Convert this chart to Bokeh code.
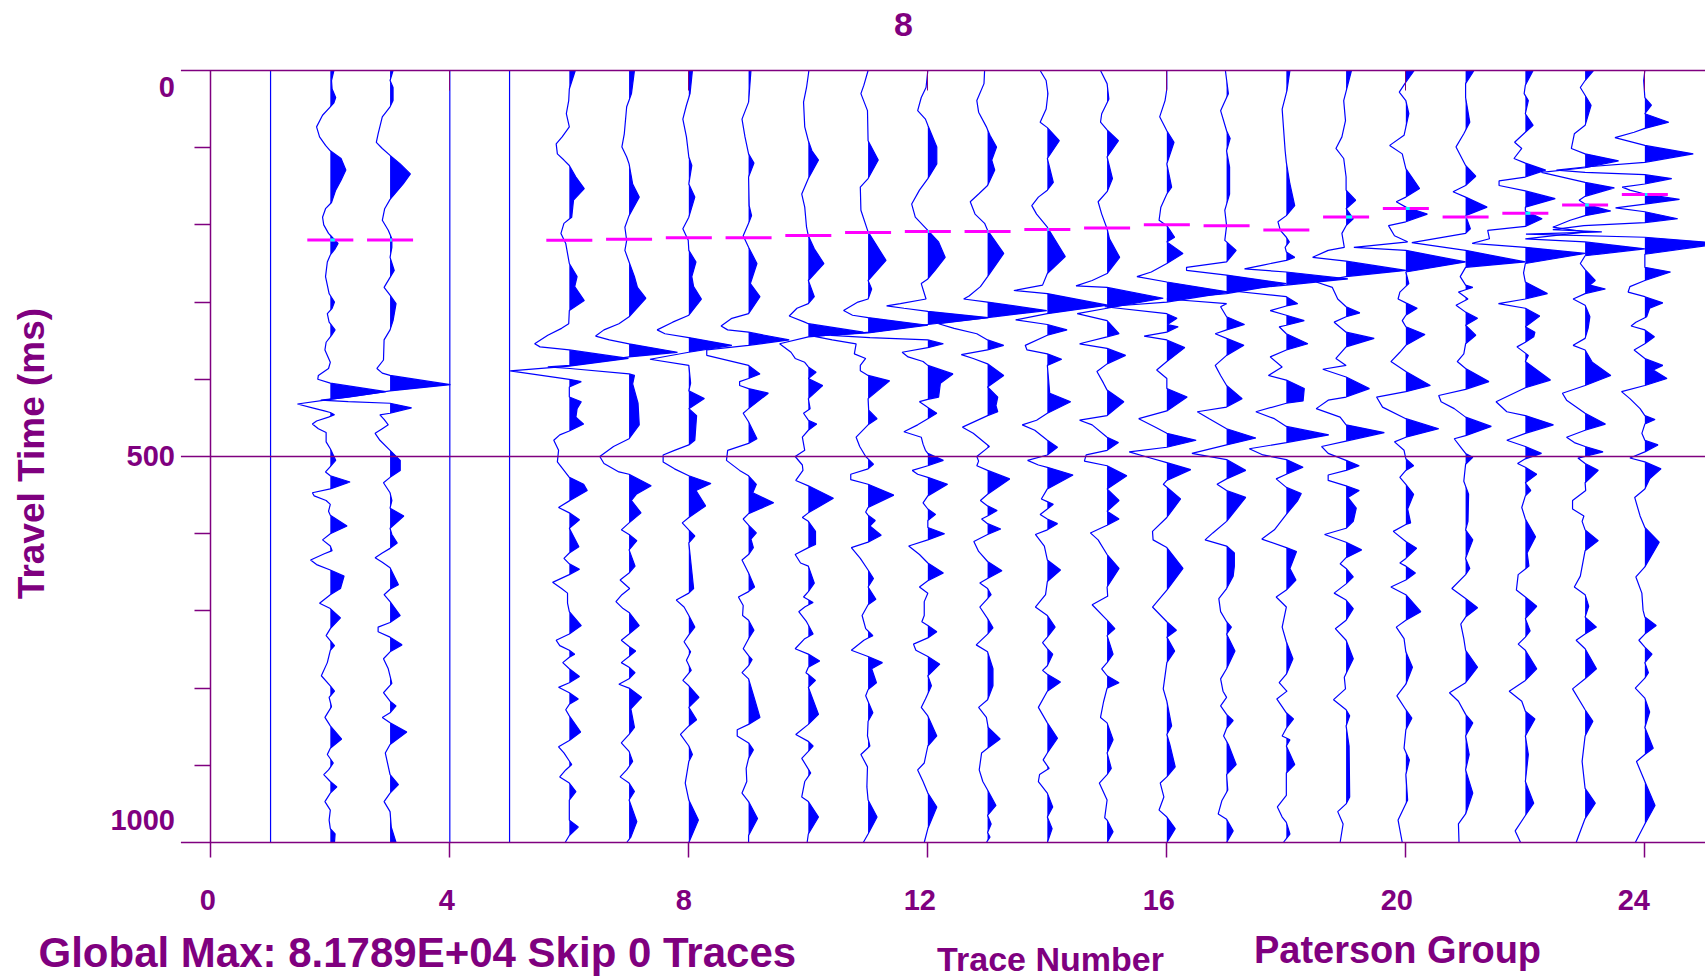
import numpy as np
from bokeh.plotting import figure
from bokeh.models import Range1d, LinearAxis, FixedTicker, Label
from bokeh.embed import file_html
from bokeh.resources import INLINE

# (time ms, amplitude in hundredths of a trace spacing)
trace_1 = [(0,0),(1000,0)]
trace_2 = [(0,6),(13,2),(24,3),(35,9),(42,6),(47,0),(58,-13),(73,-23),(86,-18),(97,-8),(104,0),(114,18),(129,26),(142,18),(155,9),(171,2),(179,-8),(190,-13),(200,-11),(211,-3),(224,13),(231,8),(239,0),(248,-5),(267,-8),(289,-2),(300,7),(308,3),(315,-5),(326,-2),(336,8),(343,2),(352,-7),(362,-9),(378,0),(386,-3),(395,-20),(400,-21),(405,0),(416,93),(426,0),(432,-55),(437,-30),(441,-10),(443,0),(446,7),(449,-3),(454,-23),(458,-30),(464,-20),(469,-7),(481,-7),(490,0),(505,9),(513,0),(520,-8),(525,0),(533,33),(542,0),(547,-30),(551,-27),(557,-7),(562,0),(571,-3),(576,0),(590,28),(600,0),(608,-13),(616,0),(622,3),(626,-10),(634,-33),(640,-23),(647,0),(655,23),(671,17),(679,0),(690,-18),(697,0),(709,17),(723,0),(732,-7),(745,7),(751,0),(767,-5),(784,-15),(797,0),(804,7),(812,-2),(824,2),(838,-9),(849,0),(866,19),(878,0),(886,-5),(897,5),(906,-3),(912,-11),(921,0),(928,11),(936,0),(947,-9),(958,0),(971,-2),(982,0),(989,8),(1000,7)]
trace_3 = [(0,5),(13,0),(22,5),(39,5),(47,0),(60,-13),(82,-20),(93,-23),(101,-13),(110,0),(121,17),(134,34),(147,22),(167,0),(179,-9),(194,-13),(207,-3),(218,3),(229,3),(242,0),(259,7),(268,0),(281,-10),(291,0),(302,10),(324,5),(336,0),(349,-10),(375,-11),(386,-22),(392,-13),(395,0),(407,101),(415,0),(423,-70),(427,-116),(429,-70),(431,0),(437,36),(444,0),(446,-17),(452,-10),(459,-3),(464,-13),(470,-25),(479,-17),(492,0),(505,17),(518,17),(527,0),(534,-11),(547,0),(557,3),(567,0),(577,23),(593,0),(601,3),(612,12),(619,0),(625,-13),(631,-25),(637,-13),(644,0),(666,14),(672,0),(679,-10),(688,0),(706,17),(715,0),(721,-20),(727,-20),(734,0),(744,20),(753,0),(762,-11),(775,-3),(794,3),(806,-11),(817,0),(823,10),(832,0),(838,-13),(845,0),(857,28),(873,0),(884,-8),(912,0),(925,14),(936,0),(947,-10),(960,0),(980,2),(1000,10)]
trace_4 = [(0,0),(1000,0)]
trace_5 = [(0,0),(1000,0)]
trace_6 = [(0,10),(24,0),(39,-1),(56,-5),(73,0),(86,-12),(95,-22),(108,-20),(116,-9),(123,0),(138,11),(153,25),(168,7),(190,4),(198,-9),(211,-14),(224,-6),(250,0),(267,13),(280,9),(298,25),(311,0),(328,-1),(334,-13),(343,-36),(354,-58),(358,-49),(362,0),(373,99),(383,0),(389,-99),(400,0),(403,20),(410,0),(423,0),(429,20),(438,13),(449,11),(458,24),(467,0),(472,-16),(479,-26),(492,-18),(507,-20),(518,-9),(527,0),(536,24),(544,30),(557,1),(566,-18),(573,0),(582,17),(593,0),(617,16),(625,0),(632,-9),(639,0),(646,17),(653,0),(663,-28),(671,-13),(677,-3),(690,-3),(701,0),(719,20),(730,0),(738,-22),(745,-16),(751,0),(756,9),(760,0),(767,-11),(775,0),(785,17),(793,0),(799,-18),(806,0),(814,15),(821,0),(828,-6),(836,0),(857,19),(868,0),(876,-18),(884,-9),(899,4),(906,-6),(915,-16),(923,0),(934,11),(945,0),(971,0),(980,15),(991,0),(1000,-7)]
trace_7 = [(0,9),(30,4),(47,-4),(82,-8),(99,-12),(112,-4),(121,0),(147,6),(164,17),(188,0),(203,-7),(220,-4),(233,-7),(248,0),(267,9),(281,14),(295,28),(319,0),(328,-17),(336,-42),(344,-56),(349,-33),(354,0),(365,81),(371,0),(382,-99),(384,-136),(386,-99),(393,0),(395,9),(406,6),(431,15),(459,17),(477,0),(487,-26),(500,-49),(509,-42),(520,-17),(523,0),(538,37),(549,12),(557,4),(573,20),(586,0),(595,-13),(601,0),(609,13),(621,0),(642,10),(651,0),(660,-15),(671,1),(679,-12),(688,-22),(697,-10),(702,0),(719,17),(730,0),(738,-13),(746,0),(752,11),(759,0),(767,-13),(773,0),(780,10),(788,0),(795,-17),(800,0),(812,21),(827,3),(851,9),(860,0),(871,-13),(882,0),(895,6),(906,-4),(915,-15),(923,0),(934,9),(945,0),(973,13),(993,3),(1000,-4)]
trace_8 = [(0,6),(30,2),(45,-4),(63,-10),(86,-4),(112,0),(123,5),(147,0),(164,10),(190,0),(205,-10),(220,-1),(233,0),(248,12),(267,5),(280,8),(296,21),(317,0),(326,-27),(336,-53),(341,-40),(346,0),(356,72),(365,0),(374,-65),(382,0),(405,3),(415,0),(425,26),(438,0),(447,13),(479,10),(485,0),(492,-24),(498,-43),(507,-43),(516,-24),(525,0),(535,37),(544,12),(564,28),(579,0),(586,-11),(595,0),(603,10),(612,0),(671,8),(677,0),(686,-21),(695,-8),(706,0),(721,10),(731,0),(740,-8),(753,3),(764,-4),(777,4),(790,-10),(797,0),(812,17),(825,0),(841,13),(849,0),(860,-14),(875,0),(886,6),(895,0),(923,-6),(945,0),(971,16),(1000,0)]
trace_9 = [(0,4),(41,0),(63,-11),(86,-6),(108,0),(120,9),(138,0),(175,1),(188,5),(198,0),(214,-9),(229,0),(250,14),(276,3),(293,19),(315,0),(321,-28),(331,-46),(336,-35),(339,0),(349,68),(356,0),(362,-70),(369,-70),(382,0),(393,19),(399,0),(403,-15),(408,-15),(412,0),(418,33),(438,0),(444,-9),(455,0),(477,14),(483,0),(492,-35),(505,-37),(518,-15),(525,0),(536,13),(547,7),(560,42),(574,0),(581,-9),(589,0),(599,13),(607,4),(618,8),(627,0),(634,-11),(651,0),(669,10),(675,0),(682,-17),(693,-9),(706,-10),(712,0),(725,9),(736,0),(749,-9),(758,0),(763,6),(771,0),(780,-11),(788,0),(814,10),(838,19),(847,0),(854,-19),(862,-19),(871,0),(880,8),(891,0),(904,-4),(921,-3),(936,-11),(947,0),(969,15),(991,0),(1000,0)]
trace_10 = [(0,1),(22,-3),(41,-8),(73,-6),(91,0),(104,6),(116,17),(140,0),(160,-11),(177,-6),(203,-3),(214,0),(231,10),(250,26),(272,0),(293,10),(302,0),(308,-19),(318,-32),(326,-6),(328,0),(339,92),(345,0),(354,-48),(365,-29),(373,-22),(378,-6),(384,0),(391,13),(399,0),(408,24),(425,0),(438,3),(444,-8),(453,0),(458,14),(466,0),(475,-10),(492,-6),(500,-22),(511,-10),(518,-9),(531,-21),(538,0),(554,42),(573,0),(579,-10),(584,0),(597,12),(614,12),(618,0),(627,-22),(638,-13),(642,0),(664,10),(675,0),(682,-8),(689,8),(695,-6),(701,-16),(714,-3),(730,8),(736,-6),(749,-22),(756,0),(765,19),(773,0),(780,-4),(790,12),(799,0),(834,17),(847,0),(860,-21),(869,0),(875,8),(882,0),(891,-11),(910,4),(921,-6),(941,-11),(947,0),(967,17),(989,0),(1000,-2)]
trace_11 = [(0,0),(19,-7),(30,-12),(52,-1),(91,0),(116,17),(140,0),(151,-13),(181,-12),(209,0),(246,30),(272,0),(283,6),(296,0),(300,-17),(311,-41),(317,-26),(320,0),(330,100),(340,0),(344,-92),(349,-60),(354,-20),(367,-23),(373,-4),(382,-13),(389,-13),(395,0),(402,36),(425,0),(440,1),(451,15),(459,0),(475,-20),(487,-14),(500,-4),(510,9),(516,0),(523,-29),(530,-29),(536,0),(550,43),(566,0),(572,-4),(576,0),(583,12),(590,3),(602,22),(611,0),(618,-28),(632,-13),(647,0),(658,9),(669,0),(685,13),(692,0),(706,-10),(723,-4),(732,8),(738,-7),(751,-28),(759,0),(767,24),(775,6),(793,14),(802,0),(810,-4),(832,8),(843,0),(862,-1),(875,3),(886,-12),(902,-1),(928,-2),(945,0),(967,15),(989,0),(1000,-8)]
trace_12 = [(0,0),(22,-3),(35,-11),(52,-17),(63,-4),(71,0),(99,15),(121,15),(140,0),(155,-14),(173,-27),(190,-21),(207,0),(222,18),(242,29),(259,12),(270,0),(276,-11),(296,-3),(302,-46),(305,-69),(308,-40),(312,0),(320,101),(329,0),(339,-97),(343,-162),(346,-97),(349,0),(354,26),(359,0),(365,-43),(371,-33),(377,-8),(382,0),(393,42),(405,21),(423,18),(426,0),(429,-14),(436,-1),(444,15),(451,0),(459,-17),(468,-40),(475,-11),(484,-8),(492,-4),(496,0),(505,26),(512,0),(518,-26),(523,-17),(527,0),(536,33),(551,0),(560,-8),(568,0),(575,13),(583,0),(592,0),(600,28),(608,0),(616,-32),(627,-14),(638,0),(651,26),(661,0),(669,-14),(677,0),(688,-6),(706,-6),(714,-10),(719,0),(727,15),(735,0),(743,-24),(751,-20),(759,0),(769,20),(784,0),(797,6),(814,-4),(825,-11),(836,0),(862,15),(875,0),(897,-6),(906,-17),(921,-8),(936,0),(954,15),(982,0),(1000,-6)]
trace_13 = [(0,-5),(17,-6),(39,-18),(54,-15),(73,-2),(84,4),(99,15),(116,7),(129,12),(149,0),(160,-15),(170,-29),(186,-21),(198,-5),(207,0),(237,27),(267,0),(280,-12),(292,-31),(296,-40),(300,0),(311,99),(320,0),(328,-82),(334,-56),(341,-18),(349,0),(356,27),(362,0),(368,-44),(373,-24),(380,0),(395,27),(410,0),(423,17),(434,14),(442,17),(447,0),(462,-42),(470,-24),(487,3),(500,-18),(506,-15),(512,-18),(518,0),(529,37),(549,0),(557,-12),(564,0),(570,16),(577,0),(581,-10),(587,0),(594,22),(601,0),(610,-23),(623,-15),(636,0),(648,24),(658,0),(664,-13),(671,0),(679,6),(684,0),(695,-13),(710,0),(722,9),(730,0),(744,-19),(753,0),(775,9),(797,9),(815,0),(825,-15),(838,-2),(851,1),(866,21),(878,0),(884,-10),(906,-14),(921,-8),(932,0),(952,14),(965,0),(976,6),(987,0),(993,4),(1000,-2)]
trace_14 = [(0,-12),(13,-2),(30,1),(50,-2),(67,-12),(74,0),(91,20),(114,0),(145,10),(155,0),(164,-15),(175,-26),(186,-18),(203,0),(241,30),(263,0),(278,-8),(285,-56),(289,0),(304,101),(315,0),(323,-53),(329,0),(336,33),(343,0),(356,-37),(362,-34),(367,0),(374,24),(382,0),(418,4),(429,39),(444,0),(453,-18),(459,-42),(466,-21),(479,0),(488,17),(498,0),(505,-33),(511,-15),(514,0),(524,43),(542,0),(555,-10),(562,10),(568,0),(575,-12),(581,0),(587,17),(595,0),(601,-20),(616,-5),(634,0),(647,22),(662,0),(679,-3),(695,-20),(706,0),(721,13),(734,0),(741,-8),(749,0),(756,9),(771,0),(777,-8),(782,0),(792,22),(804,0),(825,-15),(845,0),(865,17),(884,0),(893,-7),(904,3),(912,-13),(921,-15),(936,0),(954,9),(967,0),(982,8),(1000,0)]
trace_15 = [(0,-11),(17,0),(37,3),(56,-9),(67,-11),(77,0),(91,19),(112,0),(140,9),(157,0),(170,-15),(186,-9),(205,0),(218,4),(242,21),(263,0),(272,-25),(279,-52),(281,0),(295,94),(308,0),(315,-50),(324,0),(341,20),(345,0),(354,-46),(360,0),(369,31),(380,0),(390,-17),(405,-6),(414,0),(429,28),(447,0),(453,-46),(459,-25),(475,0),(482,19),(492,0),(498,-35),(506,-38),(512,0),(525,33),(542,0),(557,20),(571,0),(581,20),(589,0),(599,-28),(608,-15),(627,0),(645,20),(669,0),(681,1),(692,-25),(712,0),(723,13),(732,0),(756,10),(767,0),(775,-9),(784,0),(793,20),(800,0),(818,-6),(838,-11),(845,0),(867,10),(884,0),(904,7),(912,0),(923,-13),(945,0),(968,-4),(971,0),(986,10),(1000,0)]
trace_16 = [(0,0),(24,0),(39,-3),(60,-12),(78,0),(93,12),(121,0),(151,8),(160,0),(177,-10),(194,-13),(201,0),(216,13),(222,0),(237,27),(250,0),(261,-26),(267,-50),(274,0),(287,104),(300,0),(306,-104),(315,0),(321,17),(329,1),(332,19),(339,0),(344,-38),(349,0),(359,30),(377,0),(388,-17),(399,0),(412,0),(423,34),(441,0),(451,-47),(462,-19),(470,0),(479,49),(488,0),(494,-63),(501,-32),(508,0),(517,40),(531,0),(536,-6),(555,23),(579,0),(597,-24),(608,-23),(618,0),(645,27),(673,0),(695,-24),(714,0),(725,16),(734,0),(752,13),(767,0),(801,-6),(817,0),(849,8),(860,0),(873,5),(902,14),(915,0),(923,-11),(941,-5),(958,-13),(967,0),(982,14),(1000,0)]
trace_17 = [(0,-2),(30,3),(52,-10),(78,0),(88,6),(104,0),(125,5),(160,5),(181,-3),(201,0),(220,-3),(233,16),(248,0),(255,-67),(259,-67),(265,0),(276,100),(289,0),(296,-100),(302,0),(306,-10),(319,0),(329,30),(336,0),(341,-19),(347,0),(356,29),(369,0),(382,-19),(395,-10),(408,0),(425,26),(436,0),(442,-49),(451,-29),(464,0),(476,49),(485,0),(496,-58),(504,0),(518,32),(529,0),(536,-16),(544,0),(553,32),(584,0),(599,-23),(608,-36),(616,0),(625,13),(642,13),(655,11),(671,0),(684,-13),(701,-10),(714,0),(721,8),(730,0),(752,14),(775,0),(788,-10),(804,-6),(812,0),(823,-10),(834,0),(842,11),(852,0),(862,-5),(873,3),(899,16),(912,0),(932,2),(946,-8),(963,-14),(970,0),(985,11),(1000,0)]
trace_18 = [(0,6),(26,1),(50,-7),(104,-2),(119,0),(147,6),(175,14),(188,0),(196,-14),(207,-10),(216,0),(222,5),(229,-2),(235,0),(242,14),(246,0),(252,-39),(257,-70),(261,0),(270,103),(278,0),(285,-98),(293,0),(302,19),(305,0),(311,-27),(317,0),(324,30),(330,0),(332,-12),(341,0),(354,36),(362,0),(371,-27),(384,-7),(395,-30),(401,0),(412,30),(428,28),(431,0),(442,-51),(451,-20),(461,0),(472,71),(482,0),(490,-62),(498,-39),(504,0),(514,28),(523,0),(529,-17),(540,0),(548,25),(557,19),(575,0),(595,-20),(607,-41),(618,0),(623,17),(645,6),(660,16),(673,0),(682,-17),(695,0),(721,-7),(740,0),(762,11),(782,0),(793,-12),(804,1),(814,-16),(832,0),(840,12),(852,0),(862,-7),(867,6),(875,0),(899,14),(910,0),(939,0),(954,-15),(967,-7),(974,0),(989,6),(1000,-5)]
trace_19 = [(0,9),(39,-4),(65,-1),(86,-7),(101,-17),(114,-4),(138,0),(155,0),(168,16),(179,0),(192,12),(201,0),(211,-7),(229,-3),(233,-30),(242,-56),(247,0),(259,100),(267,0),(274,-50),(281,-23),(296,-14),(306,0),(314,23),(319,0),(326,-20),(339,0),(347,47),(358,0),(373,-17),(382,0),(387,-39),(397,0),(412,39),(423,0),(427,-30),(438,-50),(449,-10),(459,0),(469,64),(480,0),(487,-41),(496,-30),(505,0),(512,22),(518,0),(524,-30),(531,-30),(538,0),(544,22),(553,3),(567,17),(584,12),(593,0),(601,-36),(611,0),(621,26),(631,0),(639,-10),(645,0),(656,12),(665,0),(677,-20),(686,0),(697,12),(712,0),(723,-18),(738,0),(762,12),(786,-3),(801,-1),(815,-21),(828,0),(836,6),(849,0),(875,5),(941,6),(950,0),(960,-14),(976,-5),(1000,-10)]
trace_20 = [(0,14),(15,0),(28,-11),(39,0),(56,5),(84,-3),(97,-27),(108,-6),(127,0),(153,23),(164,0),(170,-16),(177,0),(186,36),(196,0),(201,-29),(214,-19),(222,3),(229,-87),(233,0),(248,100),(261,0),(276,5),(287,-10),(296,-13),(301,0),(308,19),(317,0),(324,-6),(332,0),(342,32),(356,0),(365,-10),(377,-25),(390,0),(408,41),(416,0),(423,-49),(436,-39),(451,0),(464,55),(475,0),(481,-19),(492,-3),(503,0),(512,13),(518,0),(527,-10),(536,0),(549,13),(568,3),(586,8),(588,0),(597,-21),(610,0),(619,18),(632,0),(638,-10),(642,0),(651,16),(660,0),(669,-25),(679,0),(701,25),(712,0),(721,-16),(736,-3),(753,0),(773,11),(795,0),(810,-15),(828,0),(839,10),(854,0),(878,-3),(893,6),(912,0),(945,3),(971,-13),(1000,-6)]
trace_21 = [(0,14),(17,0),(35,0),(67,7),(82,-3),(99,-16),(123,0),(137,17),(149,0),(157,-21),(164,0),(177,36),(188,0),(205,8),(211,0),(223,-90),(233,0),(248,100),(255,0),(267,-9),(278,0),(281,12),(287,-12),(296,4),(304,-16),(313,0),(321,20),(330,0),(343,17),(354,0),(367,-3),(377,-14),(386,0),(403,39),(413,0),(421,-45),(429,-41),(438,-19),(449,0),(461,43),(473,0),(477,-19),(490,-6),(496,0),(501,12),(510,0),(532,-3),(549,5),(584,4),(595,0),(608,12),(632,0),(645,7),(653,0),(671,-23),(684,0),(696,20),(708,0),(717,-8),(736,-3),(751,0),(773,20),(793,0),(806,-27),(817,-12),(834,0),(845,12),(862,0),(886,6),(906,0),(936,12),(963,0),(976,-12),(1000,-11)]
trace_22 = [(0,13),(19,0),(30,-2),(39,5),(56,0),(71,13),(80,0),(93,-18),(101,-6),(114,-19),(120,0),(129,34),(138,0),(143,-44),(149,-44),(156,0),(166,50),(177,0),(182,0),(192,28),(202,0),(207,-63),(218,-60),(224,-89),(229,0),(237,100),(250,0),(262,-3),(274,0),(289,37),(296,0),(302,-45),(308,0),(318,24),(332,0),(339,16),(345,14),(352,0),(358,-14),(369,5),(377,0),(401,42),(411,0),(429,-49),(442,-31),(447,0),(459,47),(470,0),(479,-31),(487,0),(496,27),(503,0),(509,-13),(514,0),(523,19),(534,0),(544,9),(551,0),(566,-6),(581,0),(604,17),(625,3),(642,6),(653,-12),(673,-15),(682,0),(694,19),(710,0),(726,8),(734,0),(743,-12),(751,0),(775,19),(790,0),(804,-27),(817,-6),(830,0),(840,16),(862,0),(886,5),(921,0),(949,14),(965,0),(985,-17),(1000,-8)]
trace_23 = [(0,14),(13,0),(22,-8),(32,0),(45,10),(71,0),(82,-18),(101,-23),(108,0),(117,56),(126,0),(132,-73),(145,0),(152,49),(163,0),(168,-10),(173,0),(182,43),(188,0),(194,-25),(203,-54),(209,0),(212,-30),(218,-100),(222,0),(231,100),(240,0),(250,-8),(258,0),(272,17),(278,8),(283,34),(289,0),(296,-20),(304,0),(319,8),(334,5),(347,0),(356,-20),(362,0),(378,12),(395,43),(408,0),(418,-38),(427,-31),(444,0),(458,34),(466,0),(475,-31),(482,-18),(487,0),(494,30),(500,0),(502,-12),(509,0),(518,22),(534,0),(544,1),(557,-21),(568,-21),(577,-2),(584,-5),(595,0),(609,22),(622,0),(655,-8),(669,-18),(679,0),(694,6),(708,0),(721,19),(730,0),(738,-15),(749,0),(775,19),(788,0),(801,-21),(828,0),(843,13),(862,0),(895,-5),(930,0),(949,17),(969,0),(1000,-15)]
trace_24 = [(0,0),(13,-2),(35,0),(45,11),(56,0),(67,40),(75,0),(80,-18),(87,-50),(97,0),(108,81),(119,0),(125,-100),(129,-148),(132,-100),(135,0),(140,45),(147,0),(151,-38),(155,-25),(160,0),(167,58),(173,0),(178,-49),(183,0),(192,55),(197,0),(201,-102),(206,-154),(209,-72),(212,-199),(216,0),(224,130),(238,0),(255,0),(261,43),(272,0),(280,-25),(287,-28),(293,0),(301,30),(308,8),(319,3),(326,-15),(331,-23),(336,0),(345,16),(354,0),(362,-18),(373,0),(382,30),(388,14),(399,37),(408,0),(416,-39),(425,-25),(438,-8),(447,0),(452,17),(458,0),(470,-5),(479,0),(485,22),(494,0),(502,-25),(507,0),(516,27),(529,8),(542,0),(553,-17),(577,-8),(592,0),(611,24),(643,0),(656,-15),(677,-5),(699,-3),(708,0),(719,19),(730,0),(738,-10),(747,0),(756,12),(767,0),(780,6),(787,0),(800,-16),(813,0),(831,8),(851,0),(878,14),(886,0),(895,-14),(921,0),(952,17),(976,0),(1000,-16)]

pick_traces = [2,3,6,7,8,9,10,11,12,13,14,15,16,17,18,19,20,21,22,23,24]
pick_times = [219.6,219.6,220,218.6,216.8,216.8,213.6,209.7,208.4,208.4,205.8,204,199.7,201,206.6,189.8,178.6,189.8,185,174.3,160.5]

x_ticks = [0,4,8,12,16,20,24]
x_label_shift = {0:-3, 4:-3, 8:-5, 12:-8, 16:-8, 20:-9, 24:-11}
y_major_ticks = [0,500,1000]
y_minor_ticks = [100,200,300,400,600,700,800,900]
y_label_shift = {0:-17, 500:0, 1000:23}

title_text = "8"
y_title = "Travel Time (ms)"
x_title = "Trace Number"
footer_left = "Global Max: 8.1789E+04 Skip 0 Traces"
footer_right = "Paterson Group"

traces = {1:trace_1,2:trace_2,3:trace_3,4:trace_4,5:trace_5,6:trace_6,7:trace_7,8:trace_8,9:trace_9,
          10:trace_10,11:trace_11,12:trace_12,13:trace_13,14:trace_14,15:trace_15,16:trace_16,17:trace_17,
          18:trace_18,19:trace_19,20:trace_20,21:trace_21,22:trace_22,23:trace_23,24:trace_24}

PURPLE = "#7f007f"
BLUE = "#0000ff"
FONT = "Liberation Sans"
W, H = 1705, 979
X_LEFT = -0.5
X_RIGHT = 25.015
p = figure(frame_width=W, frame_height=H, output_backend="svg", toolbar_location=None,
           x_range=Range1d(-3.5197, X_RIGHT), y_range=Range1d(1177.46, -90.67),
           x_axis_location=None, y_axis_location=None,
           min_border_left=0, min_border_right=0, min_border_top=0, min_border_bottom=0,
           background_fill_color="white", border_fill_color="white", outline_line_color=None)
p.xgrid.visible = False
p.ygrid.visible = False

def with_crossings(t, a):
    ts, xs = [t[0]], [a[0]]
    for i in range(1, len(t)):
        if a[i-1] * a[i] < 0:
            ts.append(t[i-1] + (t[i]-t[i-1]) * a[i-1] / (a[i-1]-a[i]))
            xs.append(0.0)
        ts.append(t[i]); xs.append(a[i])
    return np.array(ts), np.array(xs)

curves = {}
for n, tr in traces.items():
    arr = np.array(sorted(tr, key=lambda q: q[0]), dtype=float)
    t, a = with_crossings(arr[:, 0], arr[:, 1] / 100.0)
    curves[n] = (t, a)
    pos = np.maximum(a, 0)
    p.harea(x1=np.full_like(t, float(n)), x2=n + pos, y=t, fill_color=BLUE, fill_alpha=1.0)
    p.line(n + a, t, line_color=BLUE, line_width=1.2)

p.segment(x0=[n - 0.385 for n in pick_traces], x1=[n + 0.385 for n in pick_traces],
          y0=pick_times, y1=pick_times, line_color="#ff00ff", line_width=3)
cx0, cx1, cy = [], [], []
for n, tp in zip(pick_traces, pick_times):
    v = float(np.interp(tp, curves[n][0], curves[n][1]))
    if v > 0:
        cx0.append(n); cx1.append(n + v); cy.append(tp)
p.segment(x0=cx0, x1=cx1, y0=cy, y1=cy, line_color="#00ffff", line_width=3)

# full-width rules at the major times, from the plot's left edge to its right edge
p.segment(x0=[X_LEFT] * len(y_major_ticks), x1=[X_RIGHT] * len(y_major_ticks),
          y0=y_major_ticks, y1=y_major_ticks, line_color=PURPLE, line_width=1.5)

below = LinearAxis(ticker=FixedTicker(ticks=x_ticks), fixed_location=1000, bounds=(X_LEFT, X_RIGHT),
                   major_tick_in=0, major_tick_out=15,
                   minor_tick_in=0, minor_tick_out=0, axis_line_color=None,
                   major_tick_line_color=PURPLE, major_tick_line_width=1.5,
                   major_label_overrides={t: "" for t in x_ticks}, major_label_text_font_size="1px")
p.add_layout(below, "below")
above = LinearAxis(ticker=FixedTicker(ticks=x_ticks), fixed_location=0, bounds=(X_LEFT, X_RIGHT),
                   major_tick_in=20, major_tick_out=0,
                   minor_tick_in=0, minor_tick_out=0, axis_line_color=None,
                   major_tick_line_color=PURPLE, major_tick_line_width=1,
                   major_label_overrides={t: "" for t in x_ticks}, major_label_text_font_size="1px")
p.add_layout(above, "above")
left = LinearAxis(ticker=FixedTicker(ticks=y_major_ticks, minor_ticks=y_minor_ticks), fixed_location=0,
                  bounds=(0, 1000), major_tick_in=0, major_tick_out=0, minor_tick_in=0, minor_tick_out=16,
                  axis_line_color=PURPLE, axis_line_width=1.5, minor_tick_line_color=PURPLE,
                  minor_tick_line_width=1.5, major_label_overrides={t: "" for t in y_major_ticks},
                  major_label_text_font_size="1px")
p.add_layout(left, "left")

def scr(text, x, y, size, angle=0, base="middle", align="center"):
    p.add_layout(Label(x=x, y=H - y, x_units="screen", y_units="screen", text=text, angle=angle,
                       text_font=FONT, text_font_size=size, text_font_style="bold", text_color=PURPLE,
                       text_align=align, text_baseline=base))

for t in y_major_ticks:
    p.add_layout(Label(x=X_LEFT, y=t, x_offset=-6, y_offset=y_label_shift[t], text=str(t), text_font=FONT,
                       text_font_size="29px", text_font_style="bold", text_color=PURPLE,
                       text_align="right", text_baseline="middle"))
for t in x_ticks:
    p.add_layout(Label(x=t, y=1000, x_offset=x_label_shift[t], y_offset=-57, text=str(t), text_font=FONT,
                       text_font_size="29px", text_font_style="bold", text_color=PURPLE,
                       text_align="center", text_baseline="middle"))

scr(title_text, 903, 24, "34px")
scr(y_title, 31, 453, "37px", angle=np.pi / 2)
scr(footer_left, 38, 952, "42px", align="left")
scr(x_title, 1050, 958, "34px")
scr(footer_right, 1397, 949, "38px")

open("out.html", "w").write(file_html(p, INLINE))
